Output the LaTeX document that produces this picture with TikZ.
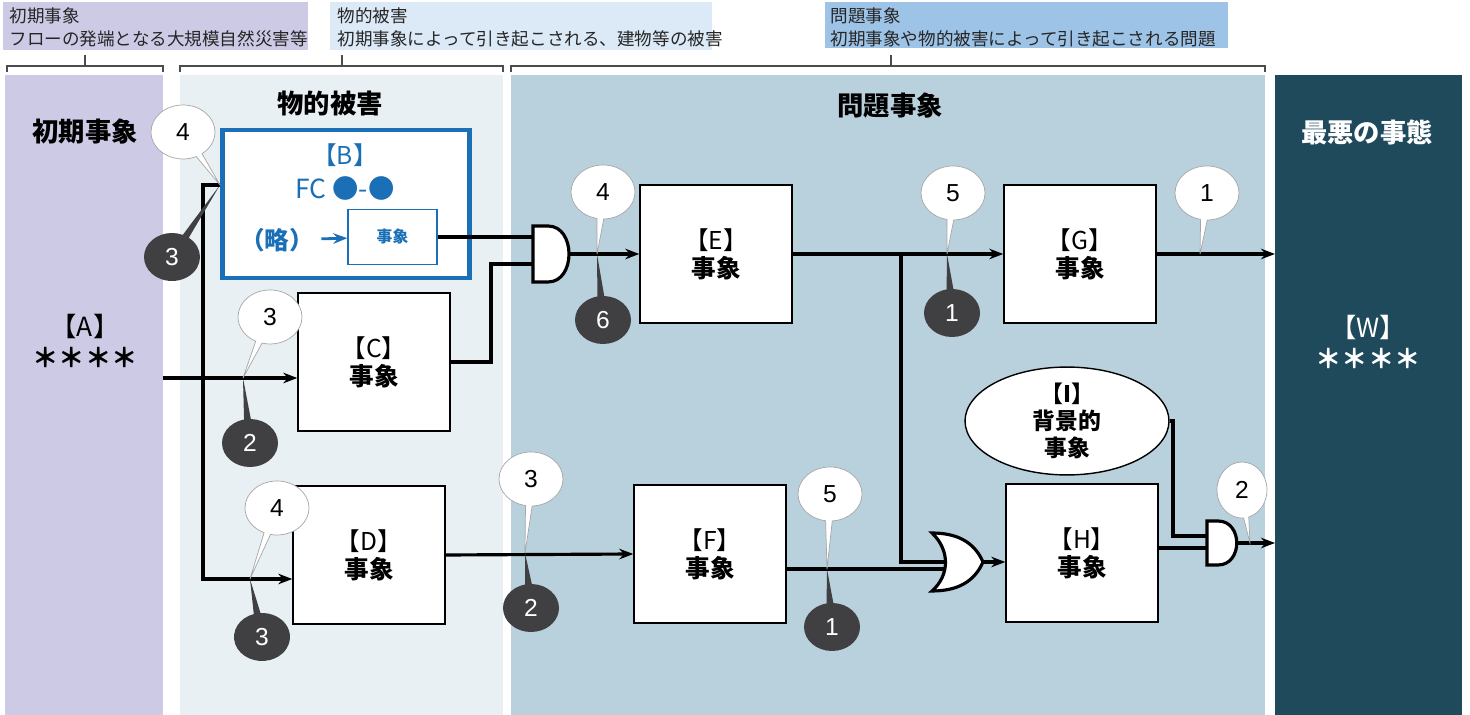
\documentclass[tikz,border=0pt]{standalone}
\usepackage{fontspec}
\setmainfont{Noto Sans CJK JP}
\newfontfamily\numfont{Liberation Sans}
\usepackage{xcolor}
\usepackage{tikz}
\usetikzlibrary{arrows.meta, positioning, shapes.geometric, shapes.callouts}
\definecolor{bandA}{RGB}{205,202,230}
\definecolor{bandB}{RGB}{232,240,244}
\definecolor{bandC}{RGB}{184,209,221}
\definecolor{bandW}{RGB}{30,74,92}
\definecolor{headB}{RGB}{220,233,246}
\definecolor{headC}{RGB}{157,195,230}
\definecolor{fcblue}{RGB}{27,111,182}
\definecolor{darkcall}{RGB}{64,64,66}

\begin{document}
\begin{tikzpicture}[x=0.02cm, y=-0.02cm, >={Stealth[length=8pt,width=6pt]},
  line width=1.8pt,
  event/.style={draw, line width=0.8pt, fill=white, minimum width=3.04cm,
    minimum height=2.76cm, align=center, font=\fontsize{14}{16}\selectfont},
  gate/.style={draw, line width=1.8pt, fill=white},
  wcall/.style={ellipse callout, draw=gray!70, line width=0.4pt, fill=white,
    minimum width=1.28cm, minimum height=1.08cm, inner sep=0pt,
    callout pointer arc=12, font=\numfont\fontsize{14}{16}\selectfont},
  dcall/.style={ellipse callout, fill=darkcall, text=white, inner sep=0pt,
    minimum width=1.12cm, minimum height=0.96cm,
    callout pointer arc=14, font=\numfont\fontsize{14}{16}\selectfont},
  title/.style={font=\bfseries\fontsize{15}{18}\selectfont},
  head/.style={anchor=north west, align=left, inner sep=0pt, text=black!85,
    font=\fontsize{10}{13}\selectfont},
  brace/.style={line width=0.6pt, black!70}]

  \useasboundingbox (0,0) rectangle (1470,715);

  \fill[bandA] (5,75) rectangle (163,715);
  \fill[bandB] (180,75) rectangle (503,715);
  \fill[bandC] (511,75) rectangle (1265,715);
  \fill[bandW] (1275,75) rectangle (1462,715);

  \fill[bandA] (3,2) rectangle (308,50);
  \fill[headB] (330,2) rectangle (712,50);
  \fill[headC] (825,2) rectangle (1228,48);
  \node[head] (hA) at (8,6) {初期事象\\フローの発端となる大規模自然災害等};
  \node[head] (hB) at (336,6) {物的被害\\初期事象によって引き起こされる、建物等の被害};
  \node[head] (hC) at (829,6) {問題事象\\初期事象や物的被害によって引き起こされる問題};

  \draw[brace] (7,72) -- (7,66) -- (163,66) -- (163,72) (85,66) -- (85,55);
  \draw[brace] (180,72) -- (180,66) -- (503,66) -- (503,72) (342,66) -- (342,55);
  \draw[brace] (511,72) -- (511,66) -- (1265,66) -- (1265,72) (891,66) -- (891,55);

  \node[title] (tA) at (85,132) {初期事象};
  \node[title] (tB) at (330,103) {物的被害};
  \node[title] (tC) at (890,106) {問題事象};
  \node[title, text=white] (tW) at (1367,132) {最悪の事態};

  \node[align=center, font=\fontsize{15}{17.6}\selectfont] (A) at (85,341) {【A】\\\textbf{＊＊＊＊}};
  \node[align=center, text=white, font=\fontsize{15}{17.6}\selectfont] (W) at (1368,342) {【W】\\\textbf{＊＊＊＊}};

  \node[draw=fcblue, line width=2.8pt, fill=white, minimum width=4.94cm,
    minimum height=2.96cm] (B) at (346,204) {};
  \node[text=fcblue, font=\fontsize{14}{16}\selectfont] (Bname) at (345,155) {【B】};
  \node[text=fcblue, font=\fontsize{15}{17}\selectfont] (Bfc) at (345,188) {FC ●-●};
  \node[text=fcblue, font=\bfseries\fontsize{14}{16}\selectfont] (Bry) at (277,240) {（略）};
  \node[draw=fcblue, line width=0.8pt, fill=white, minimum width=1.78cm,
    minimum height=1.1cm, text=fcblue, font=\bfseries\fontsize{9}{11}\selectfont]
    (Bev) at (392.5,237) {事象};
  \draw[->, fcblue, line width=1.6pt] (Bry) -- (Bev);

  \node[event] (C) at (374,362) {【C】\\\textbf{事象}};
  \node[event] (D) at (369,555) {【D】\\\textbf{事象}};
  \node[event] (E) at (716,254) {【E】\\\textbf{事象}};
  \node[event] (F) at (710,554) {【F】\\\textbf{事象}};
  \node[event] (G) at (1080,254) {【G】\\\textbf{事象}};
  \node[event] (H) at (1082,553) {【H】\\\textbf{事象}};
  \node[ellipse, draw, line width=0.8pt, fill=white, minimum width=4.08cm,
    minimum height=1.84cm, align=center, inner sep=0pt,
    font=\bfseries\fontsize{13}{15.5}\selectfont] (I) at (1067,421) {【I】\\背景的\\事象};

  \coordinate (aout) at (163,378);
  \coordinate (bj) at (203,185);
  \coordinate (dj) at (203,579);
  \coordinate (win) at (1275,0);
  \coordinate (g1a) at (540,237);
  \coordinate (cb) at (491,264);
  \coordinate (g1b) at (540,264);
  \coordinate (g1out) at (569,254);
  \coordinate (j1) at (901,254);
  \coordinate (oa) at (901,562);
  \coordinate (ora) at (948,562);
  \coordinate (orb) at (948,569);
  \coordinate (orout) at (983,562);
  \coordinate (ib) at (1173,536);
  \coordinate (g2a) at (1212,536);
  \coordinate (g2b) at (1212,548);
  \coordinate (g2out) at (1237,543);

  \draw[->] (aout) -- (aout -| C.west);
  \draw[->] (bj -| B.west) -- (bj) -- (dj) -- (dj -| D.west);
  \draw (Bev.east) -- (g1a);
  \draw (C.east) -| (cb) -- (g1b);
  \draw[->] (g1out) -- (E.west);
  \draw[->] (E.east) -- (G.west);
  \draw[->] (G.east) -- (G.east -| win);
  \draw (j1) -- (oa) -- (ora);
  \draw[->] (D.east) -- (F.west);
  \draw (F.east |- orb) -- (orb);
  \draw[->] (orout) -- (orout -| H.west);
  \draw (H.east |- g2b) -- (g2b);
  \draw (I.east) -| (ib) -- (g2a);
  \draw[->] (g2out) -- (g2out -| win);

  \draw[gate] (533,226) -- (548,226) .. controls (576,226) and (576,282) .. (548,282)
    -- (533,282) -- cycle;
  \draw[gate] (932,533) .. controls (950,550) and (950,575) .. (932,591)
    .. controls (962,591) and (976,578) .. (983,562)
    .. controls (976,546) and (962,533) .. (932,533) -- cycle;
  \draw[gate] (1207,521) -- (1218,521) .. controls (1243,521) and (1243,565) .. (1218,565)
    -- (1207,565) -- cycle;

  \coordinate (p1) at (220,185);
  \coordinate (p2) at (243,378);
  \coordinate (p3) at (250,579);
  \coordinate (p4) at (597,254);
  \coordinate (p5) at (525,553);
  \coordinate (p6) at (827,569);
  \coordinate (p7) at (947,254);
  \coordinate (p8) at (1200,254);
  \coordinate (p9) at (1250,543);

  \node[wcall, callout absolute pointer={(p1)}] (w1) at (183,132) {4};
  \node[dcall, callout absolute pointer={(p1)}] (d1) at (172,257) {3};
  \node[wcall, callout absolute pointer={(p2)}] (w2) at (270,317) {3};
  \node[dcall, callout absolute pointer={(p2)}] (d2) at (250,443) {2};
  \node[wcall, callout absolute pointer={(p3)}] (w3) at (277,508) {4};
  \node[dcall, callout absolute pointer={(p3)}] (d3) at (262,637) {3};
  \node[wcall, callout absolute pointer={(p4)}] (w4) at (603,192) {4};
  \node[dcall, callout absolute pointer={(p4)}] (d4) at (603,320) {6};
  \node[wcall, callout absolute pointer={(p5)}] (w5) at (531,479) {3};
  \node[dcall, callout absolute pointer={(p5)}] (d5) at (531,608) {2};
  \node[wcall, callout absolute pointer={(p6)}] (w6) at (830,494) {5};
  \node[dcall, callout absolute pointer={(p6)}] (d6) at (832,627) {1};
  \node[wcall, callout absolute pointer={(p7)}] (w7) at (953,193) {5};
  \node[dcall, callout absolute pointer={(p7)}] (d7) at (952,313) {1};
  \node[wcall, callout absolute pointer={(p8)}] (w8) at (1207,193) {1};
  \node[wcall, minimum width=1.0cm, minimum height=1.12cm,
    callout absolute pointer={(p9)}] (w9) at (1242,490) {2};
\end{tikzpicture}
\end{document}
